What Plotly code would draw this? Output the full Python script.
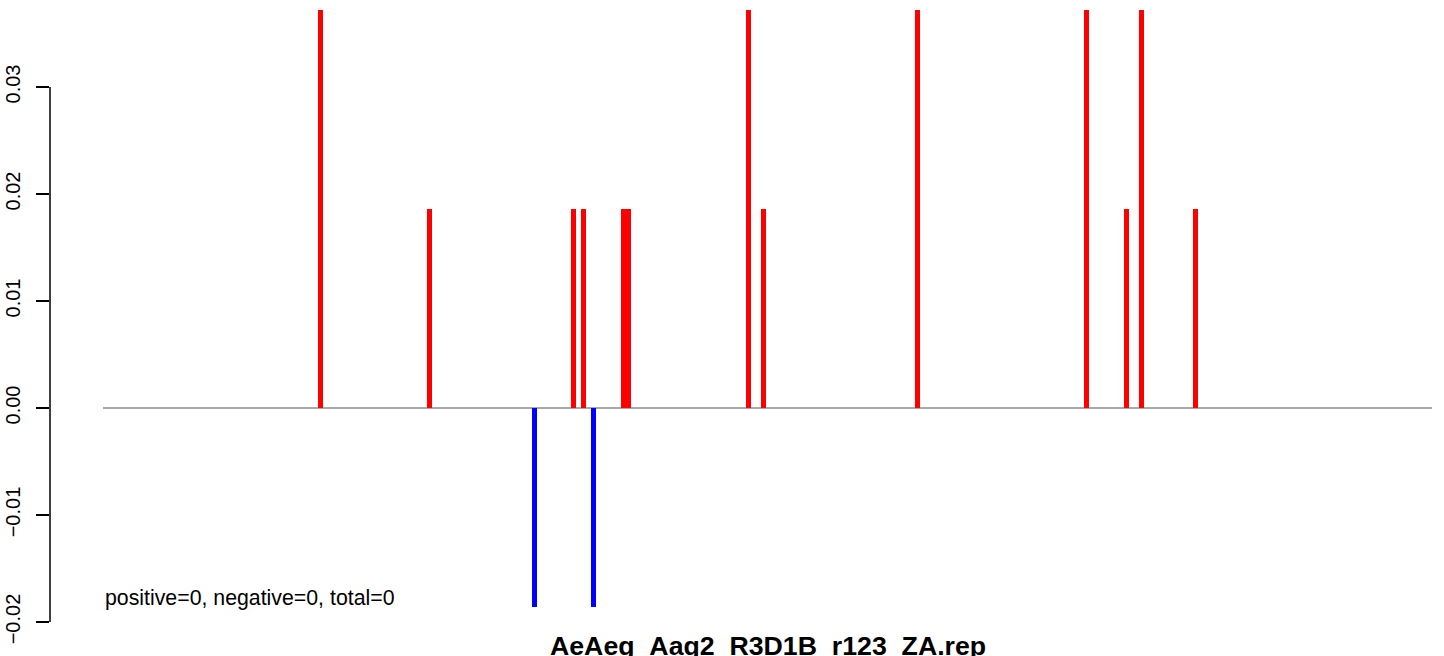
import plotly.graph_objects as go

# Positions along the sequence (arbitrary units) and values
pos_positions = [217.5, 326.5, 470.5, 480.5, 520.5, 525.5, 645.4, 660.5,
                 814.5, 983.7, 1023.7, 1038.8, 1092.4]
pos_values = [0.0372, 0.0186, 0.0186, 0.0186, 0.0186, 0.0186, 0.0372, 0.0186,
              0.0372, 0.0372, 0.0186, 0.0372, 0.0186]
neg_positions = [431.5, 490.5]
neg_values = [-0.0186, -0.0186]

x_start, x_end = 0, 1329
y_tick_vals = [-0.02, -0.01, 0.00, 0.01, 0.02, 0.03]
y_tick_text = ["\u22120.02", "\u22120.01", "0.00", "0.01", "0.02", "0.03"]
title_text = "AeAeg_Aag2_R3D1B_r123_ZA.rep"
summary_text = "positive=0, negative=0, total=0"

FONT = "Liberation Sans, Arial, Helvetica, sans-serif"

fig = go.Figure()
fig.add_trace(go.Bar(x=pos_positions, y=pos_values, width=5,
                     marker=dict(color="#ff0000", line=dict(width=0)),
                     hoverinfo="skip"))
fig.add_trace(go.Bar(x=neg_positions, y=neg_values, width=5,
                     marker=dict(color="#0000ff", line=dict(width=0)),
                     hoverinfo="skip"))

# zero reference line
fig.add_shape(type="line", xref="x", yref="y", x0=x_start, x1=x_end, y0=0, y1=0,
              line=dict(color="#8a8a8a", width=1.5), layer="below")
# y axis line (only spans tick range)
fig.add_shape(type="line", xref="paper", yref="y", x0=0, x1=0,
              y0=min(y_tick_vals), y1=max(y_tick_vals),
              line=dict(color="black", width=1.5))

fig.add_annotation(x=x_start, y=-0.0178, xref="x", yref="y", text=summary_text,
                   showarrow=False, xanchor="left", yanchor="middle",
                   font=dict(family=FONT, size=21.3, color="black"))
fig.add_annotation(x=(x_start + x_end) / 2, y=0, xref="x", yref="paper",
                   text="<b>" + title_text + "</b>", showarrow=False,
                   xanchor="center", yanchor="middle", yshift=-6,
                   font=dict(family=FONT, size=26.7, color="black"))

fig.update_layout(
    width=1444, height=656,
    margin=dict(l=50, r=12, t=0, b=16, autoexpand=False),
    paper_bgcolor="white", plot_bgcolor="white",
    showlegend=False, barmode="overlay", bargap=0,
    xaxis=dict(visible=False, range=[-53, 1329], automargin=False),
    yaxis=dict(range=[-0.02168, 0.03813], showgrid=False, zeroline=False,
               automargin=False,
               showline=False, tickmode="array", tickvals=y_tick_vals,
               ticktext=y_tick_text, ticks="outside", ticklen=13,
               tickwidth=1.5, tickcolor="black", tickangle=-90,
               ticklabelstandoff=8,
               tickfont=dict(family=FONT, size=20, color="black")),
)

fig.write_html("out.html", config={"displayModeBar": False, "staticPlot": True},
               post_script="document.body.style.margin='0';document.body.style.overflow='hidden';")
